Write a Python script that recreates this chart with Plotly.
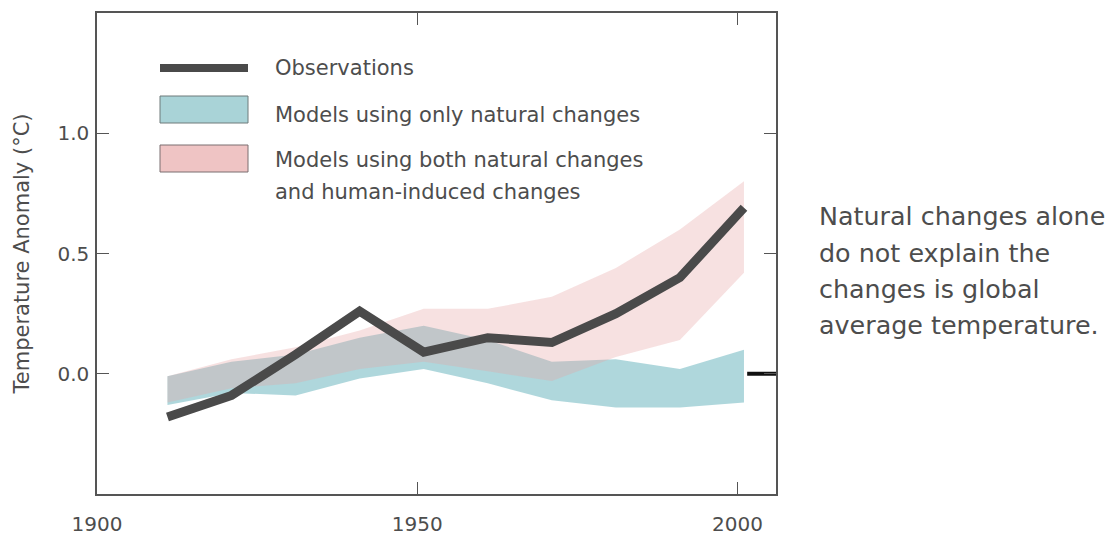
import plotly.graph_objects as go

# ---- data ----
years = [1911, 1921, 1931, 1941, 1951, 1961, 1971, 1981, 1991, 2001]
observations = [-0.18, -0.09, 0.08, 0.26, 0.09, 0.15, 0.13, 0.25, 0.40, 0.69]
natural_low = [-0.13, -0.08, -0.09, -0.02, 0.02, -0.04, -0.11, -0.14, -0.14, -0.12]
natural_high = [-0.01, 0.05, 0.08, 0.15, 0.20, 0.14, 0.05, 0.06, 0.02, 0.10]
both_low = [-0.12, -0.06, -0.04, 0.02, 0.05, 0.01, -0.03, 0.07, 0.14, 0.42]
both_high = [-0.01, 0.06, 0.11, 0.18, 0.27, 0.27, 0.32, 0.44, 0.60, 0.80]
marker_x = [2001.5, 2006]
marker_y = [0.0, 0.0]
x_ticks = [1900, 1950, 2000]
y_ticks = [0.0, 0.5, 1.0]
y_tick_text = ["0.0", "0.5", "1.0"]
legend_labels = ["Observations", "Models using only natural changes",
                 "Models using both natural changes", "and human-induced changes"]
note_lines = ["Natural changes alone", "do not explain the",
              "changes is global", "average temperature."]

OBS_COLOR = "#4a4a4a"
BLUE_FILL = "rgba(95,175,185,0.5)"
PINK_FILL = "rgba(232,165,165,0.33)"
TEXT_COLOR = "#4d4d4d"
FONT = "DejaVu Sans"

fig = go.Figure()

fig.add_trace(go.Scatter(
    x=years + years[::-1], y=natural_high + natural_low[::-1],
    fill="toself", fillcolor=BLUE_FILL, line=dict(width=0), mode="lines",
    hoverinfo="skip", showlegend=False))
fig.add_trace(go.Scatter(
    x=years + years[::-1], y=both_high + both_low[::-1],
    fill="toself", fillcolor=PINK_FILL, line=dict(width=0), mode="lines",
    hoverinfo="skip", showlegend=False))
fig.add_trace(go.Scatter(
    x=years, y=observations, mode="lines",
    line=dict(color=OBS_COLOR, width=9), showlegend=False))
fig.add_trace(go.Scatter(
    x=marker_x, y=marker_y, mode="lines",
    line=dict(color="#111111", width=4), showlegend=False, cliponaxis=False))

# plot area in window pixels (body margin removed by post_script)
L, R, T, B = 97, 776, 13, 494
W, H = 1111, 535


def px(x):
    return (x - L) / (R - L)


def py(y):
    return (B - y) / (B - T)


shapes = [
    dict(type="rect", xref="paper", yref="paper",
         x0=px(160), x1=px(248), y0=py(72), y1=py(64),
         fillcolor=OBS_COLOR, line=dict(width=0)),
    dict(type="rect", xref="paper", yref="paper",
         x0=px(160), x1=px(248), y0=py(123), y1=py(96),
         fillcolor="#a9d3d7", line=dict(color="#6f7a7b", width=1)),
    dict(type="rect", xref="paper", yref="paper",
         x0=px(160), x1=px(248), y0=py(172), y1=py(145),
         fillcolor="#efc4c4", line=dict(color="#7a6f70", width=1)),
]

legend_y = [68, 115, 160, 192]
annotations = []
for txt, yy in zip(legend_labels, legend_y):
    annotations.append(dict(
        text=txt, xref="paper", yref="paper", x=px(273), y=py(yy),
        xanchor="left", yanchor="middle", showarrow=False,
        font=dict(family=FONT, size=21, color=TEXT_COLOR)))

note_y = [216, 253, 289, 325]
for txt, yy in zip(note_lines, note_y):
    annotations.append(dict(
        text=txt, xref="paper", yref="paper", x=px(817), y=py(yy),
        xanchor="left", yanchor="middle", showarrow=False,
        font=dict(family=FONT, size=25.4, color=TEXT_COLOR)))

axis_common = dict(
    showline=True, linecolor="#555555", linewidth=1.5, mirror="allticks",
    ticks="inside", ticklen=12, tickcolor="#555555", tickwidth=1.2,
    showgrid=False, zeroline=False, automargin=False,
    tickfont=dict(family=FONT, size=20, color=TEXT_COLOR))

fig.update_layout(
    width=W, height=H,
    margin=dict(l=L, r=W - R, t=T, b=H - B),
    paper_bgcolor="white", plot_bgcolor="white",
    showlegend=False,
    shapes=shapes, annotations=annotations,
    xaxis=dict(range=[1900, 2006], tickvals=x_ticks,
               ticktext=[str(v) for v in x_ticks], ticklabelstandoff=11,
               **axis_common),
    yaxis=dict(range=[-0.5, 1.5], tickvals=y_ticks, ticktext=y_tick_text,
               ticklabelstandoff=2,
               title=dict(text="Temperature Anomaly (°C)", standoff=22,
                          font=dict(family=FONT, size=21, color=TEXT_COLOR)),
               **axis_common),
)

fig.write_html(
    "out.html",
    config={"displayModeBar": False},
    post_script="document.body.style.margin='0';"
                "document.body.style.overflow='hidden';")
